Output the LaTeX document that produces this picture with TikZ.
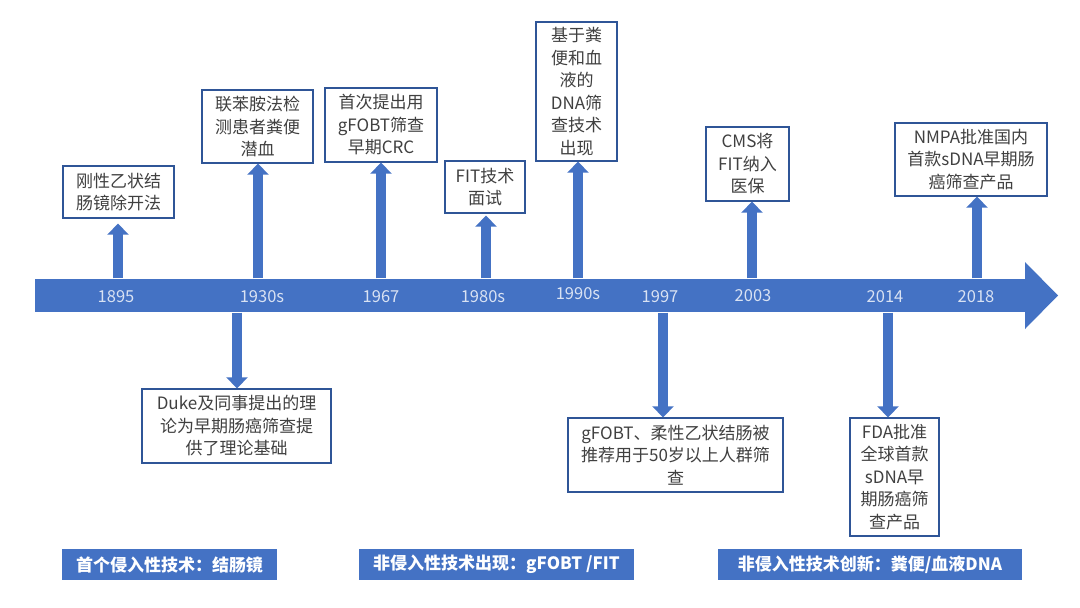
\documentclass[tikz,border=0pt]{standalone}
\usepackage{fontspec}
\setmainfont{Noto Sans CJK SC}
\usetikzlibrary{arrows.meta}
\definecolor{cblue}{HTML}{4472C4}
\definecolor{cedge}{HTML}{2F5597}
\definecolor{ctext}{HTML}{404040}
\definecolor{cyear}{HTML}{D9E2F3}
\tikzset{
  every picture/.style={line width=1.2pt},
  box/.style={draw=cedge, fill=white, line width=1.3pt, text=ctext, align=center, inner sep=0pt, font=\fontsize{17}{22.5}\selectfont},
  year/.style={text=cyear, font=\fontsize{16.5}{18}\selectfont},
  phase/.style={fill=cblue, text=white, inner sep=0pt, minimum height=31pt, font=\fontsize{17}{20}\selectfont\bfseries},
  riser/.style={draw=cblue, line width=10pt, -{Triangle[length=11pt, width=21pt]}},
}

\begin{document}
\begin{tikzpicture}[x=1pt, y=-1pt]
  \fill[white] (0,0) rectangle (1080,608);
  % the time line
  \node[fill=cblue, minimum width=992pt, minimum height=33pt, inner sep=0pt, anchor=west] (bar) at (34,295.5) {};
  \fill[cblue] (1025,262) -- (1058,295.5) -- (1025,329) -- cycle;
  \foreach \yr/\xx/\yy in {1895/116/297, 1930s/262/297, 1967/381/297, 1980s/483/297, 1990s/578/294, 1997/660/297, 2003/753/296, 2014/885/297, 2018/976/297}
    \node[year] (y\yr) at (\xx,\yy) {\yr};
  % events above the line
  \node[box, minimum width=111pt, minimum height=52pt] (b1895) at (118.5,192) {刚性乙状结\\肠镜除开法};
  \node[box, minimum width=111pt, minimum height=73pt] (b1930) at (257.5,126.5) {联苯胺法检\\测患者粪便\\潜血};
  \node[box, minimum width=112pt, minimum height=74pt] (b1967) at (381,125) {首次提出用\\gFOBT筛查\\早期CRC};
  \node[box, minimum width=80pt, minimum height=52pt] (b1980) at (485,187) {FIT技术\\面试};
  \node[box, minimum width=81pt, minimum height=139pt] (b1990) at (576.5,91.5) {基于粪\\便和血\\液的\\DNA筛\\查技术\\出现};
  \node[box, minimum width=83pt, minimum height=74pt] (b2003) at (747.5,164) {CMS将\\FIT纳入\\医保};
  \node[box, minimum width=152pt, minimum height=73pt] (b2018) at (971,159.5) {NMPA批准国内\\首款sDNA早期肠\\癌筛查产品};
  % events below the line
  \node[box, minimum width=189pt, minimum height=74pt] (d1930) at (236.5,426) {Duke及同事提出的理\\论为早期肠癌筛查提\\供了理论基础};
  \node[box, minimum width=215pt, minimum height=74pt] (d1997) at (675.5,455) {gFOBT、柔性乙状结肠被\\推荐用于50岁以上人群筛\\查};
  \node[box, minimum width=89pt, minimum height=118pt] (d2014) at (894.5,477) {FDA批准\\全球首款\\sDNA早\\期肠癌筛\\查产品};
  \foreach \n/\xx/\gap in {b1895/118/5, b1930/258/0, b1967/381/0, b1980/486/2, b1990/578/0, b2003/752/0, b2018/977/0} {
    \coordinate (s) at (\xx,0);
    \draw[riser, shorten >=\gap pt] (bar.north -| s) -- (\n.south -| s);
  }
  \foreach \n/\xx in {d1930/237, d1997/663, d2014/888} {
    \coordinate (s) at (\xx,0);
    \draw[riser] (bar.south -| s) -- (\n.north -| s);
  }
  % phases
  \node[phase, minimum width=215pt] (p1) at (169.5,564.5) {首个侵入性技术：结肠镜};
  \node[phase, minimum width=275pt] (p2) at (496.5,564.5) {非侵入性技术出现：gFOBT /FIT};
  \node[phase, minimum width=304pt] (p3) at (870,564.5) {非侵入性技术创新：粪便/血液DNA};
\end{tikzpicture}
\end{document}
